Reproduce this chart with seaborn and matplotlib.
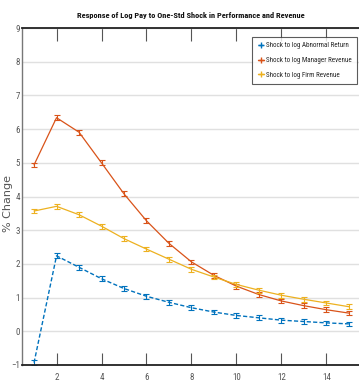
import matplotlib
matplotlib.use("Agg")
import matplotlib.pyplot as plt
import seaborn as sns
import numpy as np
import pandas as pd
from matplotlib.lines import Line2D

periods = list(range(1, 16))
abnormal_return = [-0.93, 2.24, 1.90, 1.56, 1.27, 1.04, 0.86, 0.70, 0.57, 0.47, 0.40, 0.33, 0.29, 0.25, 0.22]
manager_revenue = [4.94, 6.34, 5.91, 5.00, 4.08, 3.28, 2.61, 2.06, 1.66, 1.34, 1.09, 0.90, 0.76, 0.64, 0.54]
firm_revenue = [3.57, 3.71, 3.46, 3.12, 2.75, 2.44, 2.14, 1.84, 1.61, 1.39, 1.22, 1.07, 0.95, 0.84, 0.73]
labels = ["Shock to log Abnormal Return", "Shock to log Manager Revenue", "Shock to log Firm Revenue"]
colors = ["#0072BD", "#D95319", "#EDB120"]
err = 0.07

sns.set_theme(style="white")
narrow = ['DejaVu Sans Condensed', 'Liberation Sans Narrow', 'Roboto Condensed', 'Liberation Sans', 'DejaVu Sans']
plt.rcParams['font.family'] = narrow

fig = plt.figure(figsize=(3.59, 3.85), dpi=100)
ax = fig.add_axes([0.061, 0.052, 0.939, 0.875])

df = pd.DataFrame({
    "period": periods * 3,
    "value": abnormal_return + manager_revenue + firm_revenue,
    "series": [labels[0]] * 15 + [labels[1]] * 15 + [labels[2]] * 15,
})

for i, (lab, col) in enumerate(zip(labels, colors)):
    sub = df[df.series == lab]
    if i == 0:
        sns.lineplot(data=sub, x="period", y="value", ax=ax, color=col,
                     linewidth=1.0, legend=False, dashes=False)
        ax.lines[-1].set_dashes([3, 1.6])
    else:
        sns.lineplot(data=sub, x="period", y="value", ax=ax, color=col,
                     linewidth=0.9, legend=False)
    ax.errorbar(sub.period, sub.value, yerr=err, fmt="none", ecolor=col,
                elinewidth=0.8, capsize=2, capthick=0.8)

handles = [Line2D([0], [0], color=c, linestyle=l, marker="+", markersize=5, linewidth=1)
           for c, l in zip(colors, ["--", "-", "-"])]
leg = ax.legend(handles, labels, loc="upper right", bbox_to_anchor=(0.998, 0.978),
                fontsize=5.0, frameon=True, fancybox=False, edgecolor="#333333",
                handlelength=0.8, handletextpad=0.3, borderpad=0.8, labelspacing=1.1,
                borderaxespad=0.2)
leg.get_frame().set_linewidth(0.8)

ax.set_xlim(0.46, 15.45)
ax.set_ylim(-1, 9)
ax.set_xticks([2, 4, 6, 8, 10, 12, 14])
ax.set_yticks(range(-1, 10))
ax.yaxis.grid(True, color="#e0e0e0", linewidth=1.0)
ax.xaxis.grid(False)
ax.tick_params(axis="both", direction="in", labelsize=6.5, labelcolor="#555555",
               length=9, width=0.8, color="#555555", pad=4)
ax.tick_params(axis="x", top=True, bottom=True, pad=6)
ax.tick_params(axis="y", left=False, pad=1.5)
for s in ["top", "bottom"]:
    ax.spines[s].set_color("#222222")
    ax.spines[s].set_linewidth(1.3)
ax.spines["left"].set_color("#777777")
ax.spines["left"].set_linewidth(1.0)
ax.spines["right"].set_visible(False)

ax.set_xlabel("")
ax.set_ylabel("% Change", fontsize=8, color="#555555", family=["DejaVu Sans"])
ax.yaxis.set_label_coords(-0.026, 0.48)
ax.set_title("Response of Log Pay to One-Std Shock in Performance and Revenue",
             fontsize=6, fontweight="bold", pad=7, color="#111111")

fig.savefig("out.png", dpi=100)
